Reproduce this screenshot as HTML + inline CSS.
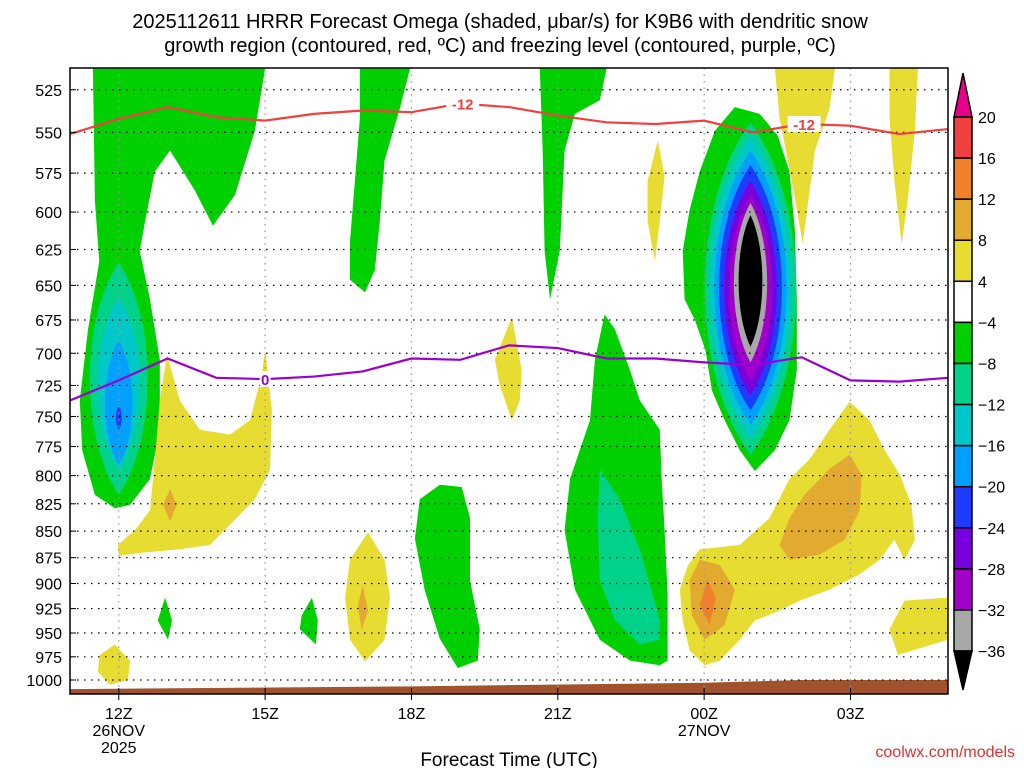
<!DOCTYPE html>
<html><head><meta charset="utf-8"><style>
html,body{margin:0;padding:0;background:#fff;}
svg{display:block;font-family:"Liberation Sans",sans-serif;}
</style></head><body>
<svg id="chart" width="1024" height="768" viewBox="0 0 1024 768">
<defs><clipPath id="plotclip"><rect x="70" y="68" width="878" height="626"/></clipPath></defs>
<text x="500" y="28" text-anchor="middle" font-size="20">2025112611 HRRR Forecast Omega (shaded, μbar/s) for K9B6 with dendritic snow</text>
<text x="500" y="52" text-anchor="middle" font-size="20">growth region (contoured, red, ºC) and freezing level (contoured, purple, ºC)</text>
<rect x="70" y="68" width="878" height="626" fill="#fff"/>
<g id="fills" clip-path="url(#plotclip)"></g>
<g id="grid"></g>
<g id="lines" clip-path="url(#plotclip)"></g>
<rect x="70" y="68" width="878" height="626" fill="none" stroke="#000" stroke-width="1.5"/>
<g id="yaxis"></g>
<g id="xaxis"></g>
<text x="509" y="766" text-anchor="middle" font-size="19">Forecast Time (UTC)</text>
<text x="1015" y="757" text-anchor="end" font-size="16" fill="#e03030">coolwx.com/models</text>
<g id="cbar"></g>
</svg>
<script>
// ---- data ----
const pressureTicks=[525,550,575,600,625,650,675,700,725,750,775,800,825,850,875,900,925,950,975,1000];
const timeTickHours=[12,15,18,21,24,27];
const timeTickLabels=[["12Z","26NOV","2025"],["15Z"],["18Z"],["21Z"],["00Z","27NOV"],["03Z"]];
const lineHours=[11,12,13,14,15,16,17,18,19,20,21,22,23,24,25,26,27,28,29];
const dgzTop=[551,542,535,541,543,539,537,538,533,535,540,544,545,543,550,545,546,551,548];
const freezingLevel=[737,721,704,719,720,718,714,704,705,694,696,704,704,707,709,703,721,722,719];
const surfaceHours=[11,18,24,26,29];
const surfacePressure=[1010,1007,1003,1000,1000];
const cbarLevels=[20,16,12,8,4,-4,-8,-12,-16,-20,-24,-28,-32,-36];
const cbarColors=["#f04040","#f0802c","#e3aa30","#e6dc32","#ffffff","#00d000","#00d28a","#00c8c8","#00a0ff","#1e3cff","#7800dc","#a000c8","#a8a8a8"];

const greenLeft=[[11.47,513],[15,513],[14.79,549],[14.38,589],[13.93,609],[13.56,586],[13.05,561],[12.74,574],[12.54,606],[12.43,626],[12.64,660],[12.84,705],[12.84,761],[12.64,803],[12.23,826],[11.92,829],[11.51,817],[11.25,778],[11.2,737],[11.37,682],[11.6,633],[11.51,593]];
const greenCenter=[[24.63,535],[25.14,539],[25.51,552],[25.75,574],[25.86,612],[25.9,660],[25.9,713],[25.75,753],[25.45,778],[25.04,796],[24.73,778],[24.42,753],[24.16,729],[24.03,698],[23.81,675],[23.6,660],[23.56,626],[23.7,599],[23.91,574],[24.22,549]];
const greenTop17=[[16.94,513],[17.97,513],[17.76,536],[17.45,567],[17.35,606],[17.25,639],[17.05,655],[16.74,646],[16.74,619],[16.84,580],[16.94,542]];
const greenTop21=[[20.63,513],[22,513],[21.86,531],[21.35,539],[21.14,561],[21.04,626],[20.84,660],[20.73,626],[20.69,561]];
const greenLow19=[[18.58,808],[19.03,810],[19.2,838],[19.2,897],[19.4,946],[19.36,979],[18.95,987],[18.58,956],[18.27,906],[18.07,857],[18.17,821]];
const greenLow22=[[21.96,671],[22.17,682],[22.48,713],[22.68,737],[23.09,761],[23.13,803],[23.19,849],[23.25,911],[23.25,979],[23.09,984],[22.48,979],[21.86,957],[21.35,906],[21.14,849],[21.25,803],[21.66,753],[21.76,705]];
const tealLow22=[[21.86,795],[22.27,821],[22.68,867],[23.09,937],[23.09,957],[22.68,962],[22.17,937],[21.86,897],[21.82,839]];
const greenSmall13=[[12.95,914],[13.09,937],[13.01,957],[12.8,937]];
const greenSmall16=[[15.96,914],[16.08,937],[16.04,962],[15.71,946],[15.75,932]];
const yellowTop26=[[25.45,513],[26.68,513],[26.57,536],[26.27,561],[26.02,621],[25.8,580],[25.55,542]];
const yellowTop28=[[27.8,513],[28.38,513],[28.32,549],[28.17,593],[28.05,621],[27.9,580],[27.8,542]];
const yellowMid23=[[23.05,555],[23.19,577],[23.09,606],[22.99,633],[22.84,606],[22.84,580]];
const yellowMid20=[[20.06,673],[20.26,713],[20.22,737],[20.06,753],[19.81,725],[19.71,705]];
const yellowLeft=[[12.99,701],[13.25,737],[13.66,761],[14.28,765],[14.69,753],[14.93,717],[15,697],[15.14,745],[15.1,795],[14.79,821],[14.28,844],[13.87,863],[13.25,867],[12.54,870],[12,873],[11.98,863],[12.33,849],[12.64,831],[12.74,786],[12.84,737]];
const orangeLeft=[[13.05,812],[13.19,826],[13.05,841],[12.91,826]];
const yellowSfc12=[[11.92,962],[12.23,979],[12.19,1000],[11.82,1005],[11.57,991],[11.61,973]];
const yellowLow17=[[17.11,851],[17.45,877],[17.56,914],[17.45,957],[17.05,980],[16.74,957],[16.64,914],[16.74,877]];
const orangeLow17=[[17,902],[17.11,927],[16.98,947],[16.9,922]];
const yellowRight=[[26.98,738],[27.39,753],[27.7,778],[28.01,799],[28.25,826],[28.32,858],[28.11,877],[27.9,858],[27.6,877],[27.19,891],[26.57,906],[25.96,917],[25.55,927],[25.04,937],[24.73,957],[24.32,979],[24.01,984],[23.7,968],[23.56,937],[23.5,906],[23.66,883],[23.91,867],[24.73,863],[25.34,838],[25.75,803],[26.16,786],[26.57,761]];
const orangeRight1=[[26.98,782],[27.23,799],[27.19,831],[26.88,858],[26.37,872],[25.75,877],[25.55,863],[25.75,838],[26.06,817],[26.57,794]];
const orangeRight2=[[23.91,877],[24.32,882],[24.63,906],[24.42,942],[24.01,957],[23.75,932],[23.7,897]];
const darkOrangeRight=[[24.07,897],[24.24,914],[24.11,942],[23.91,921]];
const yellowLow28=[[28.11,917],[29,914],[29,957],[28.42,966],[27.97,973],[27.8,946]];
// lens cores: [centerHour, topP, bottomP, halfWidthHours]
const leftCoreTeal=[12,634,817,0.61], leftCoreCyan=[12,659,795,0.45], leftCoreLblue=[12,690,791,0.29], leftCoreBlue=[12,741,761,0.06];
const ctrTeal=[24.95,544,782,0.96], ctrCyan=[24.95,552,769,0.86], ctrLblue=[24.95,561,757,0.76], ctrBlue=[24.95,570,745,0.66],
      ctrPurple=[24.95,580,733,0.55], ctrMagenta=[24.95,589,721,0.45], ctrGray=[24.95,594,707,0.35], ctrBlack=[24.95,602,695,0.25];

// ---- axes ----
const NS="http://www.w3.org/2000/svg";
function X(h){return 70+(h-11)*48.78;}
function Y(p){return 680-916*Math.log(1000/p);}
function mk(tag,attrs,parent){const e=document.createElementNS(NS,tag);for(const k in attrs)e.setAttribute(k,attrs[k]);parent.appendChild(e);return e;}
const fills=document.getElementById('fills');
function poly(pts,color,name){
  const e=mk('polygon',{points:pts.map(p=>X(p[0]).toFixed(1)+','+Y(p[1]).toFixed(1)).join(' '),fill:color},fills);
  
  
}
function lens(L,color,name){
  const cx=X(L[0]),yt=Y(L[1]),yb=Y(L[2]),hw=(X(L[0]+L[3])-cx)*1.3,l=yb-yt;
  const d=`M${cx},${yt} C${cx+hw},${yt+0.25*l} ${cx+hw},${yb-0.25*l} ${cx},${yb} C${cx-hw},${yb-0.25*l} ${cx-hw},${yt+0.25*l} ${cx},${yt}Z`;
  const e=mk('path',{d:d,fill:color},fills);
  
  
}
const G="#00d000",T="#00d28a",C="#00c8c8",LB="#00a0ff",B="#1e3cff",PU="#7800dc",MA="#a000c8",GR="#a8a8a8",YE="#e6dc32",OR="#e3aa30",DO="#f0802c";
[[greenLeft,'left'],[greenCenter,'center'],[greenTop17,'top-17z'],[greenTop21,'top-21z'],[greenLow19,'low-19z'],[greenLow22,'low-22z'],[greenSmall13,'small-13z'],[greenSmall16,'small-16z']].forEach(a=>poly(a[0],G,'green-region-'+a[1]));
poly(tealLow22,T,'teal-region-low-22z');
[[yellowTop26,'top-26z'],[yellowTop28,'top-28z'],[yellowMid23,'mid-23z'],[yellowMid20,'mid-20z'],[yellowLeft,'left'],[yellowSfc12,'sfc-12z'],[yellowLow17,'low-17z'],[yellowRight,'right'],[yellowLow28,'low-28z']].forEach(a=>poly(a[0],YE,'yellow-region-'+a[1]));
[[orangeLeft,'left'],[orangeLow17,'low-17z'],[orangeRight1,'right-1'],[orangeRight2,'right-2']].forEach(a=>poly(a[0],OR,'orange-region-'+a[1]));
poly(darkOrangeRight,DO,'dark-orange-region');
lens(leftCoreTeal,T,'left-core-teal');lens(leftCoreCyan,C,'left-core-cyan');lens(leftCoreLblue,LB,'left-core-lightblue');lens(leftCoreBlue,B,'left-core-blue');
lens(ctrTeal,T,'center-core-teal');lens(ctrCyan,C,'center-core-cyan');lens(ctrLblue,LB,'center-core-lightblue');lens(ctrBlue,B,'center-core-blue');
lens(ctrPurple,PU,'center-core-purple');lens(ctrMagenta,MA,'center-core-magenta');lens(ctrGray,GR,'center-core-gray');lens(ctrBlack,'#000','center-core-black');
// surface
{let d=`M${X(surfaceHours[0])},700 `;surfaceHours.forEach((h,i)=>d+=`L${X(h)},${Y(surfacePressure[i])} `);d+=`L${X(29)},700Z`;
 const e=mk('path',{d:d,fill:'#a0522d'},fills);
 
 }

// grid & axes
const grid=document.getElementById('grid'),yax=document.getElementById('yaxis'),xax=document.getElementById('xaxis');
pressureTicks.forEach(p=>{
  const y=Y(p);
  const l=mk('line',{x1:70,x2:948,y1:y,y2:y,stroke:'#000','stroke-width':1.2,'stroke-dasharray':'1.5 5.5'},grid);
  
  
  const t=mk('text',{x:62,y:y+6,'text-anchor':'end','font-size':16},yax);t.textContent=p;
  
  
  mk('line',{x1:70,x2:76,y1:y,y2:y,stroke:'#000'},yax);
});
timeTickHours.forEach((h,i)=>{
  const x=X(h);
  const l=mk('line',{x1:x,x2:x,y1:68,y2:694,stroke:'#999','stroke-width':1.2,'stroke-dasharray':'1.5 5'},grid);
  
  
  timeTickLabels[i].forEach((s,j)=>{
    const t=mk('text',{x:x,y:719+j*17,'text-anchor':'middle','font-size':16},xax);t.textContent=s;
    
    
  });
  mk('line',{x1:x,x2:x,y1:688,y2:700,stroke:'#000'},xax);
});

// contour lines
const lg=document.getElementById('lines');
function polyline(vals,color,name){
  const e=mk('polyline',{points:lineHours.map((h,i)=>X(h)+','+Y(vals[i])).join(' '),fill:'none',stroke:color,'stroke-width':2.2},lg);
  
  
}
polyline(dgzTop,'#f04040','dgz-minus12-line');
polyline(freezingLevel,'#9a00d0','freezing-level-line');
function lbl(h,p,s,color,name){
  const x=X(h),y=Y(p);
  mk('rect',{x:x-s.length*5.5,y:y-8,width:s.length*11,height:16,fill:'#fff'},lg);
  const t=mk('text',{x:x,y:y+6,'text-anchor':'middle','font-size':15,'font-weight':'bold',fill:color},lg);t.textContent=s;
  
  
}
lbl(19.05,533,'-12','#f04040','dgz-label-1');
lbl(26.05,545,'-12','#f04040','dgz-label-2');
lbl(15,720,'0','#9a00d0','freezing-label');

// colorbar
const cb=document.getElementById('cbar');
const cbTop=117,cbStep=41.08,cbX=954,cbW=18;
{const t=mk('polygon',{points:`${cbX},${cbTop} ${cbX+cbW},${cbTop} ${cbX+cbW/2},73`,fill:'#e8008a',stroke:'#000','stroke-width':1.5},cb);
 
 }
cbarColors.forEach((c,i)=>{
  const r=mk('rect',{x:cbX,y:cbTop+i*cbStep,width:cbW,height:cbStep,fill:c,stroke:'#000','stroke-width':1.5},cb);
  
  
});
{const yb=cbTop+cbarColors.length*cbStep;
 const t=mk('polygon',{points:`${cbX},${yb} ${cbX+cbW},${yb} ${cbX+cbW/2},690`,fill:'#000',stroke:'#000','stroke-width':1.5},cb);
 
 }
cbarLevels.forEach((v,i)=>{
  const t=mk('text',{x:978,y:cbTop+i*cbStep+6,'font-size':16},cb);t.textContent=v<0?'\u2212'+(-v):v;
  
  
});
</script>
</body></html>
